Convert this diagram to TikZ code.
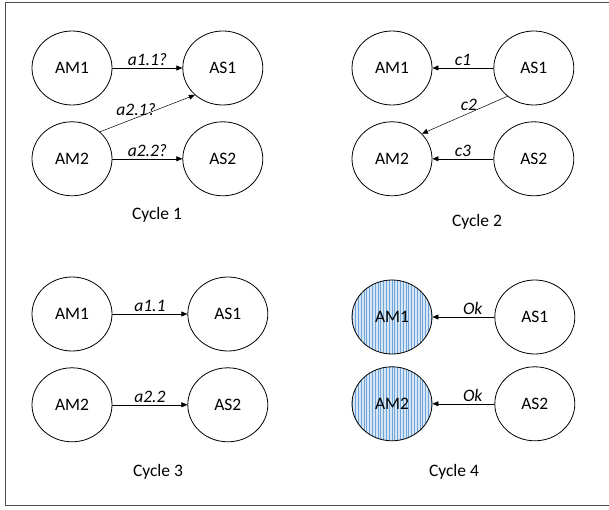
\documentclass[tikz,border=0pt]{standalone}
\usepackage{fontspec}
\setmainfont{Carlito}
\usetikzlibrary{positioning}
\usetikzlibrary{shapes.geometric}
\usetikzlibrary{arrows.meta}
\usetikzlibrary{patterns.meta}
\definecolor{stripeblue}{RGB}{110,165,218}
\definecolor{paleblue}{RGB}{214,230,245}

\begin{document}
\begin{tikzpicture}[x=1pt,y=1pt,
        agent/.style={ellipse,draw,line width=0.8pt,minimum width=80pt,minimum height=74pt,inner sep=0pt,font=\fontsize{17.5}{20}\selectfont},
        done/.style={agent,preaction={fill=paleblue},pattern={Lines[angle=90,distance=2.8pt,line width=0.8pt]},pattern color=stripeblue},
        msg/.style={-{Triangle[length=6pt,width=5pt]},line width=0.5pt},
        lbl/.style={font=\fontsize{17.5}{20}\selectfont\itshape,inner sep=2pt},
        cyc/.style={font=\fontsize{17.5}{20}\selectfont}]
        \useasboundingbox (0,0) rectangle (609,509);
        \draw[line width=0.8pt,black!70] (609,507) -- (5,507) -- (5,3.5) -- (609,3.5);

        % cycle 1
        \node[agent] (am1c1) at (72,441) {AM1};
        \node[agent,right=70pt of am1c1] (as1c1) {AS1};
        \node[agent,below=16pt of am1c1] (am2c1) {AM2};
        \node[agent,right=70pt of am2c1] (as2c1) {AS2};
        \draw[msg] (am1c1) -- node[lbl,above] {a1.1?} (as1c1);
        \draw[msg] (am2c1.44) -- node[lbl,above,pos=0.38] {a2.1?} (as1c1.224);
        \draw[msg] (am2c1) -- node[lbl,above] {a2.2?} (as2c1);
        \node[cyc] (cycone) at (157,294) {Cycle 1};

        % cycle 2
        \node[agent] (am1c2) at (392,441) {AM1};
        \node[agent,right=61pt of am1c2] (as1c2) {AS1};
        \node[agent,below=16pt of am1c2] (am2c2) {AM2};
        \node[agent,right=61pt of am2c2] (as2c2) {AS2};
        \draw[msg] (as1c2) -- node[lbl,above] {c1} (am1c2);
        \draw[msg] (as1c2.227) -- node[lbl,above,pos=0.45] {c2} (am2c2.40);
        \draw[msg] (as2c2) -- node[lbl,above] {c3} (am2c2);
        \node[cyc] (cyctwo) at (477,287) {Cycle 2};

        % cycle 3
        \node[agent] (am1c3) at (72,195) {AM1};
        \node[agent,right=75pt of am1c3] (as1c3) {AS1};
        \node[agent,below=16pt of am1c3] (am2c3) {AM2};
        \node[agent,right=75pt of am2c3] (as2c3) {AS2};
        \draw[msg] (am1c3) -- node[lbl,above] {a1.1} (as1c3);
        \draw[msg] (am2c3) -- node[lbl,above] {a2.2} (as2c3);
        \node[cyc] (cycthree) at (158,37) {Cycle 3};

        % cycle 4
        \node[done] (am1c4) at (392,192) {AM1};
        \node[agent,right=62pt of am1c4] (as1c4) {AS1};
        \node[done,below=12pt of am1c4] (am2c4) {AM2};
        \node[agent,right=62pt of am2c4] (as2c4) {AS2};
        \draw[msg] (as1c4) -- node[lbl,above,pos=0.35] {Ok} (am1c4);
        \draw[msg] (as2c4) -- node[lbl,above,pos=0.35] {Ok} (am2c4);
        \node[cyc] (cycfour) at (454,37) {Cycle 4};
\end{tikzpicture}
\end{document}
